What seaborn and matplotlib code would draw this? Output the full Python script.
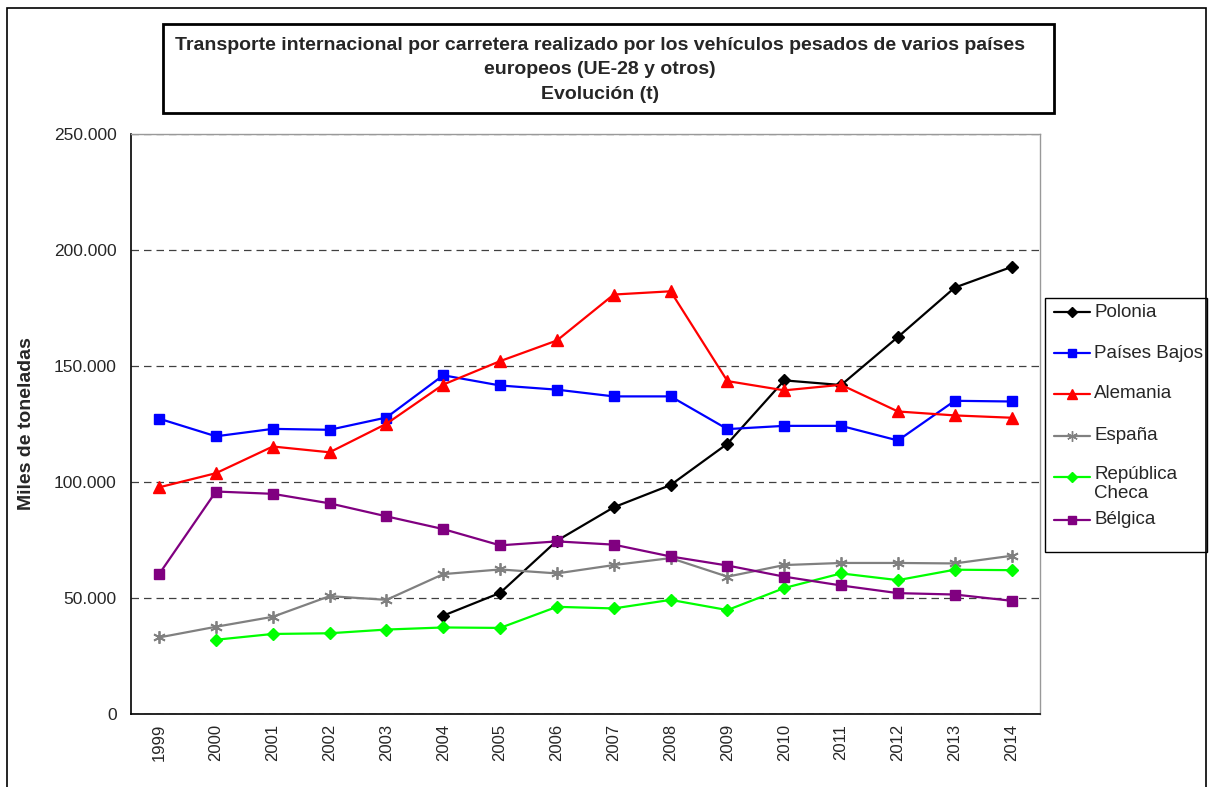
import numpy as np
import pandas as pd
import seaborn as sns
import matplotlib.pyplot as plt
from matplotlib.ticker import FuncFormatter, FixedLocator
from matplotlib.patches import Rectangle
from matplotlib.lines import Line2D

# data (thousands of tonnes)
years = list(range(1999, 2015))
nan = np.nan
polonia = [nan, nan, nan, nan, nan, 42.4, 52.2, 74.7, 89.1, 98.7, 116.5, 143.8, 141.8, 162.5, 183.8, 192.7]
paises_bajos = [127.3, 119.7, 122.9, 122.5, 127.8, 146.0, 141.6, 139.8, 136.9, 136.9, 122.8, 124.2, 124.2, 117.9, 135.0, 134.7]
alemania = [97.7, 103.8, 115.3, 112.8, 125.1, 142.0, 152.1, 161.0, 180.8, 182.2, 143.5, 139.5, 141.9, 130.4, 128.7, 127.7]
espana = [33.0, 37.6, 41.9, 50.8, 49.2, 60.3, 62.3, 60.6, 64.2, 67.2, 59.2, 64.2, 65.1, 65.1, 64.9, 68.2]
rep_checa = [nan, 32.0, 34.5, 34.8, 36.4, 37.3, 37.1, 46.2, 45.5, 49.2, 44.8, 54.3, 60.6, 57.7, 62.2, 62.0]
belgica = [60.3, 95.9, 94.9, 90.8, 85.2, 79.7, 72.7, 74.4, 73.0, 67.9, 64.0, 59.2, 55.4, 52.1, 51.5, 48.8]

series = ['Polonia', 'Países Bajos', 'Alemania', 'España', 'República\nCheca', 'Bélgica']
values = [polonia, paises_bajos, alemania, espana, rep_checa, belgica]
colors = ['#000000', '#0000FF', '#FF0000', '#808080', '#00FF00', '#800080']
markers = ['D', 's', '^', (6, 2, 0), 'D', 's']
msizes = [6, 7.5, 8, 9, 6, 7.5]

sns.set_style('white')
plt.rcParams['font.family'] = ['Liberation Sans', 'DejaVu Sans']

fig = plt.figure(figsize=(12.1, 7.87), dpi=100)
W, H = 1210, 787
ax = fig.add_axes([130.7 / W, 1 - 714 / H, (1040 - 130.7) / W, (714 - 134) / H])

for name, vals, c, m, ms in zip(series, values, colors, markers, msizes):
    df = pd.DataFrame({'year': years, 'value': np.array(vals) * 1000})
    df = df.dropna()
    sns.lineplot(data=df, x='year', y='value', ax=ax, color=c, linewidth=1.6,
                 marker=m, markersize=ms, markeredgecolor=c, markerfacecolor=c,
                 markeredgewidth=1.0 if m != (6, 2, 0) else 1.3)

ax.set_xlim(1998.5, 2014.5)
ax.set_ylim(0, 250000)
ax.set_yticks([0, 50000, 100000, 150000, 200000, 250000])
ax.yaxis.set_major_formatter(FuncFormatter(lambda v, p: f'{int(v):,}'.replace(',', '.')))
ax.set_xticks(years)
ax.set_xticklabels([str(y) for y in years], rotation=90, fontsize=12)
ax.xaxis.set_minor_locator(FixedLocator([1998.5 + k for k in range(17)]))
ax.tick_params(axis='x', which='major', length=0, pad=7)
ax.tick_params(axis='x', which='minor', length=5, width=1, color='black', direction='out')
ax.tick_params(axis='y', length=5, width=1, color='black', direction='out', labelsize=12.5, pad=5)
ax.yaxis.grid(True, linestyle=(0, (6, 4)), color='#404040', linewidth=0.9)
ax.xaxis.grid(False)
ax.set_axisbelow(True)

for s in ['left', 'bottom']:
    ax.spines[s].set_color('black')
    ax.spines[s].set_linewidth(1.2)
for s in ['top', 'right']:
    ax.spines[s].set_color('#999999')
    ax.spines[s].set_linewidth(1)

ax.set_xlabel('')
ax.set_ylabel('Miles de toneladas', fontsize=14, fontweight='bold')
ax.yaxis.set_label_coords(-(130.7 - 35) / (1040 - 130.7), 0.5)

# title box
fig.patches.append(Rectangle((163 / W, 1 - 113 / H), (1054 - 163) / W, (113 - 24) / H,
                             transform=fig.transFigure, fill=False, edgecolor='black',
                             linewidth=2))
fig.text(600 / W, 1 - 70 / H,
         'Transporte internacional por carretera realizado por los vehículos pesados de varios países\n'
         'europeos (UE-28 y otros)\nEvolución (t)',
         ha='center', va='center', fontsize=14, fontweight='bold', linespacing=1.6)

# outer frame
fig.patches.append(Rectangle((7 / W, -0.01), (1206 - 7) / W, 1 - 8 / H + 0.01,
                             transform=fig.transFigure, fill=False, edgecolor='black',
                             linewidth=1.2))

# legend drawn by hand so the two-line entry keeps the even spacing
fig.patches.append(Rectangle((1045 / W, 1 - 552 / H), (1207 - 1045) / W, (552 - 298) / H,
                             transform=fig.transFigure, fill=False, edgecolor='black',
                             linewidth=1))
leg_y = [312, 353, 394, 436, 477, 520]
for name, c, m, ms, ly in zip(series, colors, markers, msizes, leg_y):
    yf = 1 - ly / H
    fig.add_artist(Line2D([1054 / W, 1090 / W], [yf, yf], color=c, linewidth=1.6,
                          transform=fig.transFigure))
    fig.add_artist(Line2D([1072 / W], [yf], color=c, marker=m, markersize=ms * 0.85,
                          markerfacecolor=c, markeredgecolor=c, linestyle='none',
                          transform=fig.transFigure))
    if '\n' in name:
        fig.text(1094 / W, 1 - (ly - 11) / H, name, ha='left', va='top', fontsize=13.5,
                 linespacing=1.15)
    else:
        fig.text(1094 / W, yf, name, ha='left', va='center', fontsize=13.5)

fig.savefig('out.png', dpi=100)
